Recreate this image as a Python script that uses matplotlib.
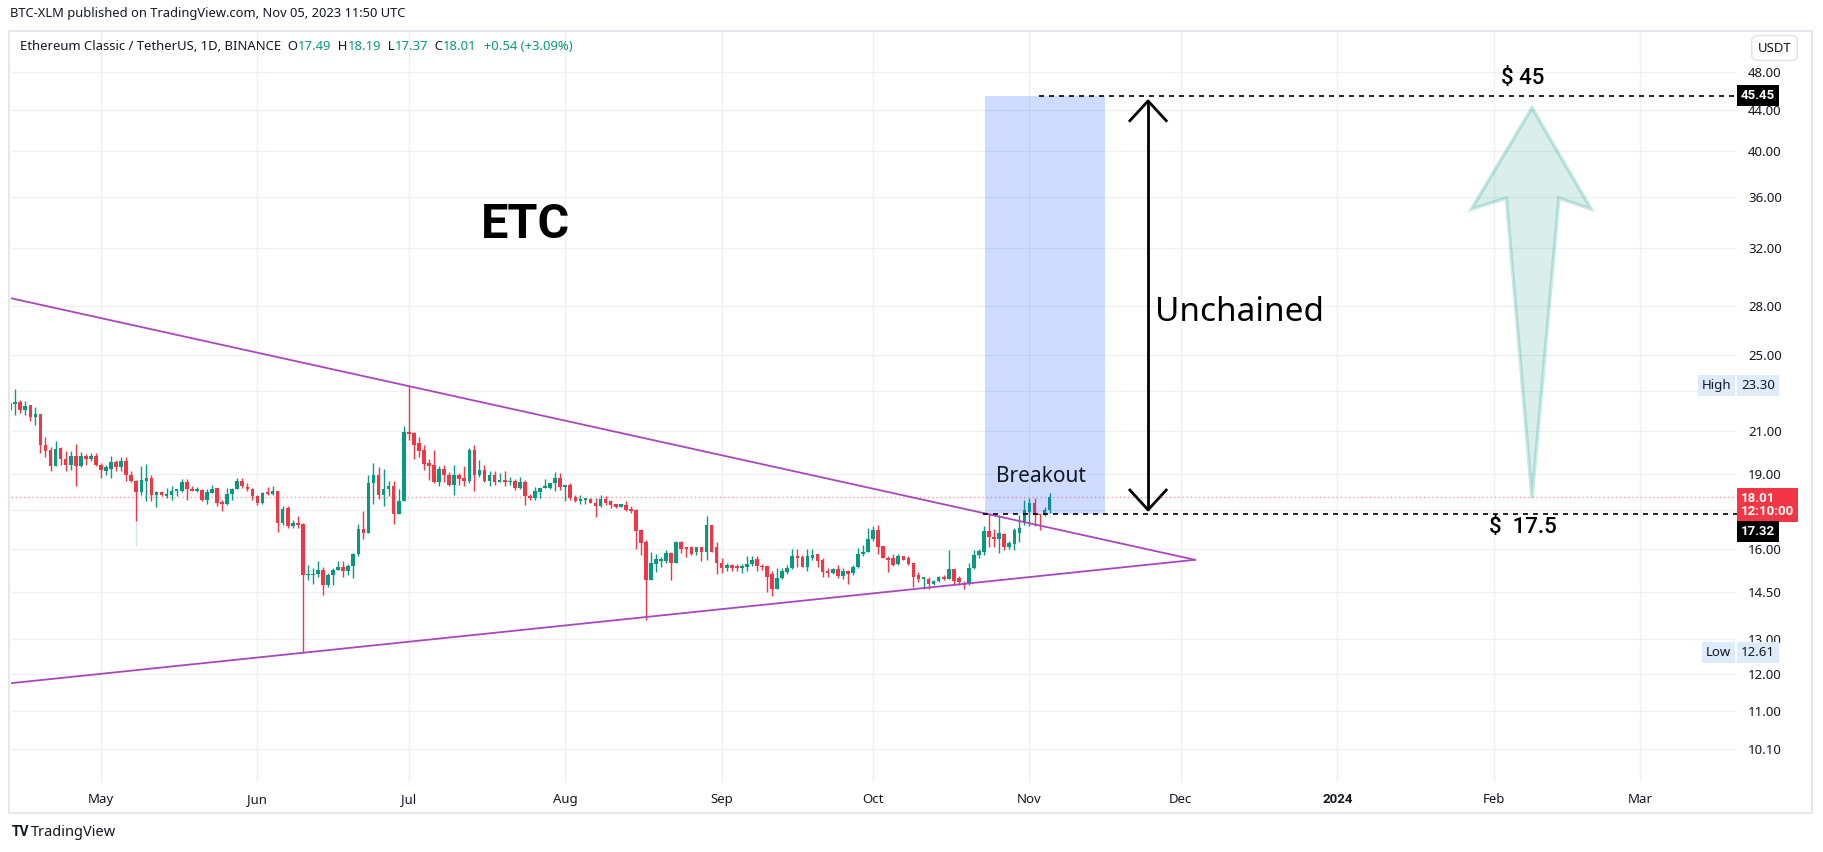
import numpy as np
import pandas as pd
import matplotlib
matplotlib.use("Agg")
import matplotlib.pyplot as plt
import matplotlib.dates as mdates
from matplotlib.patches import Polygon, Rectangle
from matplotlib.ticker import FixedLocator, FixedFormatter, NullLocator, NullFormatter

plt.rcParams['font.family'] = ['Noto Sans', 'DejaVu Sans']
BOLD_FONT = ['Roboto', 'DejaVu Sans']

# daily candles ETC/USDT, 2023-04-13 .. 2023-11-05
start_date = "2023-04-13"
opens = [
    22.02, 22.35, 22.45, 22.05, 22.3, 21.7, 21.85, 20.3, 20.1, 19.35, 20.2, 19.7, 19.4, 19.8, 19.35, 19.8, 19.7, 19.8,
    19.4, 19.15, 19.25, 19.55, 19.3, 19.6, 18.95, 18.7, 18.25, 18.7, 18.85, 18.1, 18.25, 18.08, 18.1, 18.28, 18.3, 18.65,
    18.38, 18.3, 18.32, 17.9, 18.2, 18.42, 17.8, 17.72, 18.15, 18.35, 18.72, 18.45, 18.35,
    18.07, 17.8, 18.22, 18.16, 18.3, 17.0, 17.57, 16.87, 16.98, 16.95, 15.05, 15.05, 15.1, 15.25, 14.72, 15.05, 15.24,
    15.35, 15.2, 15.38, 15.82, 16.75, 16.6, 18.6, 18.95, 18.1, 18.35, 18.5, 17.35, 17.85,
    20.95, 20.9, 20.4, 20.1, 19.5, 19.4, 18.68, 19.25, 18.97, 18.55, 18.95, 18.85, 18.72, 20.1, 18.95, 19.2, 18.72,
    18.98, 18.68, 18.75, 18.65, 18.72, 18.42, 18.68, 18.08, 18.0, 18.25, 18.4, 18.4, 18.6, 18.85,
    18.45, 18.52, 18.02, 17.88, 17.9, 17.93, 17.8, 17.65, 17.93, 17.85, 17.72, 17.6, 17.7, 17.52, 17.5, 16.72,
    16.25, 14.89, 15.45, 15.55, 15.55, 15.85, 15.5, 16.25, 16.05, 16.05, 15.88, 16.05, 15.88, 16.9, 16.05,
    15.5, 15.3, 15.42, 15.35, 15.32, 15.33, 15.45, 15.62, 15.38, 15.38, 15.1, 14.6, 14.95, 15.18, 15.3, 15.72,
    15.7, 15.35, 15.65, 15.8, 15.58, 15.2, 15.15, 15.27, 15.03, 15.22, 15.13, 15.35, 15.82, 15.87,
    16.35, 16.72, 16.1, 15.68, 15.65, 15.45, 15.75, 15.68, 15.48, 15.05, 14.92, 14.92, 14.75, 14.85, 15.0, 14.93,
    15.28, 14.95, 14.78, 14.75, 15.3, 15.78, 15.9, 16.67, 16.45, 16.35, 16.55, 16.05, 16.18, 16.6, 16.98,
    17.42, 17.8, 17.32, 17.28, 17.49,
]
highs = [
    22.45, 23.1, 22.55, 22.5, 22.3, 22.2, 21.85, 20.7, 20.25, 20.5, 20.25, 20.05, 20.05, 20.35, 20.0, 19.9, 19.95, 19.95,
    19.5, 19.4, 19.8, 19.65, 19.75, 19.75, 19.15, 18.75, 19.35, 19.45, 18.95, 18.3, 18.3, 18.4, 18.5, 18.35, 18.8, 18.8,
    18.5, 18.45, 18.35, 18.35, 18.55, 18.42, 17.9, 18.4, 18.4, 18.85, 18.85, 18.6, 18.4,
    18.12, 18.25, 18.45, 18.5, 18.3, 17.65, 17.65, 17.1, 17.25, 16.97, 15.42, 15.3, 15.55, 15.35, 15.15, 15.3, 15.55,
    15.55, 15.45, 15.85, 16.95, 17.45, 18.95, 19.5, 19.3, 19.25, 18.7, 18.7, 18.35, 21.25,
    23.30, 20.95, 20.7, 20.3, 19.7, 20.1, 19.35, 19.4, 19.1, 19.4, 19.05, 19.35, 20.2, 20.3, 19.65, 19.4,
    19.12, 19.12, 19.05, 19.12, 18.9, 18.8, 18.9, 18.75, 18.15, 18.45, 18.4, 18.8, 18.62, 19.1, 19.05,
    18.55, 18.6, 18.1, 18.1, 17.98, 18.0, 18.0, 18.1, 18.05, 17.9, 17.75, 17.72, 17.85, 17.65, 17.52, 16.75,
    16.33, 15.9, 15.8, 15.7, 15.96, 15.88, 16.3, 16.3, 16.05, 16.12, 16.08, 16.05, 17.25, 16.92, 16.25,
    15.65, 15.5, 15.45, 15.45, 15.45, 15.72, 15.72, 15.72, 15.45, 15.38, 15.2, 15.3, 15.3, 15.42, 16.0, 16.0,
    15.78, 16.0, 15.98, 15.82, 15.65, 15.32, 15.32, 15.4, 15.32, 15.25, 15.4, 16.03, 16.15, 16.8,
    16.85, 16.9, 16.1, 15.75, 15.8, 15.82, 15.75, 15.72, 15.5, 15.18, 15.0, 15.0, 14.89, 15.02, 15.06, 15.95,
    15.28, 15.02, 14.85, 15.48, 15.95, 15.98, 16.85, 17.35, 16.75, 17.3, 16.6, 16.28, 16.8, 17.3, 17.9,
    18.0, 18.0, 17.32, 17.62, 18.19,
]
lows = [
    22.0, 21.8, 21.9, 21.8, 21.5, 21.3, 19.95, 19.75, 19.15, 19.35, 19.4, 19.15, 19.2, 18.5, 19.3, 19.4, 19.6, 19.35,
    18.85, 18.95, 18.85, 19.15, 19.15, 18.7, 18.65, 17.05, 18.1, 17.85, 17.85, 17.6, 18.05, 18.0, 17.9, 18.05, 18.25, 17.9,
    18.28, 18.25, 17.85, 17.75, 18.2, 17.65, 17.45, 17.7, 17.9, 18.35, 18.4, 18.28, 17.9,
    17.7, 17.75, 18.1, 18.1, 16.62, 16.92, 16.77, 16.8, 16.77, 12.61, 14.89, 14.75, 15.0, 14.38, 14.65, 14.72, 15.24,
    15.0, 15.06, 14.95, 15.75, 16.35, 16.6, 17.75, 17.95, 17.65, 18.05, 16.93, 17.35, 17.85,
    20.55, 19.7, 19.75, 19.2, 18.75, 18.63, 18.5, 18.68, 18.5, 18.1, 18.55, 18.5, 18.6, 18.3, 18.9, 18.68,
    18.5, 18.55, 18.68, 18.5, 18.52, 18.32, 18.35, 17.7, 17.92, 17.9, 18.0, 18.4, 18.38, 18.3, 18.32,
    17.85, 17.92, 17.82, 17.75, 17.75, 17.78, 17.2, 17.6, 17.7, 17.58, 17.58, 17.6, 17.45, 17.38, 15.98, 15.78,
    13.57, 14.89, 15.18, 15.35, 15.48, 14.89, 15.5, 15.85, 15.7, 15.78, 15.78, 15.55, 15.6, 15.88, 15.1,
    15.12, 15.22, 15.22, 15.2, 15.15, 15.2, 15.38, 15.2, 15.25, 14.5, 14.35, 14.6, 14.92, 15.1, 15.28, 15.35,
    15.35, 15.2, 15.58, 15.35, 15.0, 15.0, 15.1, 14.95, 14.92, 14.75, 15.08, 15.3, 15.75, 15.87,
    16.3, 15.82, 15.68, 15.18, 15.38, 15.42, 15.58, 15.42, 14.65, 14.82, 14.6, 14.6, 14.72, 14.82, 14.89, 14.93,
    14.72, 14.72, 14.6, 14.72, 15.26, 15.65, 15.78, 16.05, 16.05, 15.85, 15.95, 16.0, 15.95, 16.25, 16.9,
    16.85, 16.85, 16.72, 17.26, 17.37,
]
closes = [
    22.38, 22.45, 22.05, 22.25, 21.7, 21.85, 20.3, 20.05, 19.35, 20.15, 19.7, 19.4, 19.8, 19.35, 19.8, 19.7, 19.8, 19.4,
    19.2, 19.3, 19.55, 19.3, 19.6, 18.95, 18.7, 18.25, 18.75, 18.85, 18.1, 18.25, 18.1, 18.12, 18.3, 18.32, 18.65, 18.35,
    18.3, 18.32, 17.9, 18.25, 18.38, 17.8, 17.75, 18.15, 18.35, 18.72, 18.5, 18.35, 18.07,
    17.8, 18.2, 18.16, 18.3, 17.0, 17.55, 16.87, 16.98, 16.92, 15.05, 15.1, 15.1, 15.25, 14.72, 15.05, 15.25, 15.35,
    15.2, 15.38, 15.82, 16.75, 16.6, 18.6, 18.95, 18.1, 18.35, 18.5, 17.35, 17.85, 20.95,
    20.85, 20.3, 20.05, 19.45, 19.35, 18.68, 19.25, 18.95, 18.55, 18.95, 18.8, 18.72, 20.1, 18.95, 19.2, 18.72,
    18.98, 18.68, 18.75, 18.65, 18.72, 18.42, 18.68, 18.05, 18.0, 18.3, 18.4, 18.5, 18.6, 18.85, 18.45,
    18.52, 18.0, 17.88, 17.92, 17.94, 17.78, 17.65, 17.93, 17.8, 17.7, 17.6, 17.72, 17.5, 17.45, 16.68, 16.22,
    14.89, 15.5, 15.62, 15.62, 15.85, 15.5, 16.25, 16.0, 16.0, 15.82, 16.05, 15.88, 16.9, 15.88, 15.5,
    15.3, 15.42, 15.3, 15.32, 15.35, 15.45, 15.6, 15.38, 15.33, 14.98, 14.6, 14.95, 15.2, 15.32, 15.75, 15.65,
    15.35, 15.72, 15.78, 15.55, 15.18, 15.15, 15.27, 15.03, 15.22, 15.1, 15.35, 15.82, 15.9, 16.38,
    16.72, 16.08, 15.68, 15.6, 15.42, 15.75, 15.6, 15.45, 14.98, 14.92, 14.95, 14.75, 14.85, 15.0, 14.93, 15.28,
    14.85, 14.82, 14.72, 15.3, 15.78, 15.92, 16.67, 16.45, 16.35, 16.6, 16.05, 16.2, 16.72, 16.78, 17.5,
    17.8, 17.3, 17.28, 17.49, 18.01,
]

# faint extra wick under the 2023-05-08 candle
ghost_wick_date = "2023-05-08"
ghost_wick_prices = [16.1, 17.05]

# price axis
price_ticks = [48, 44, 40, 36, 32, 28, 25, 23, 21, 19, 17.5, 16, 14.5, 13, 12, 11, 10.1]
price_tick_labels = ["48.00", "44.00", "40.00", "36.00", "32.00", "28.00", "25.00", "",
                     "21.00", "19.00", "", "16.00", "14.50", "13.00", "12.00", "11.00", "10.10"]
month_ticks = ["2023-05-01", "2023-06-01", "2023-07-01", "2023-08-01", "2023-09-01", "2023-10-01",
               "2023-11-01", "2023-12-01", "2024-01-01", "2024-02-01", "2024-03-01"]
month_labels = ["May", "Jun", "Jul", "Aug", "Sep", "Oct", "Nov", "Dec", "2024", "Feb", "Mar"]

# drawings
tri_start = "2023-04-13 04:00"
tri_apex = "2023-12-03 19:00"
tri_upper_start, tri_lower_start, tri_apex_price = 28.5, 11.74, 15.6
box_dates = ["2023-10-23 05:00", "2023-11-16 00:00"]
box_prices = [17.35, 45.45]
target_price, breakout_price, last_price = 45.45, 17.32, 18.01
target_line_start = "2023-11-02 22:00"
breakout_line_start = "2023-10-22 17:00"
arrow_date = "2023-11-24 12:00"
arrow_prices = [17.5, 44.9]
arrow_head_prices = [18.32, 42.9]
arrow_head_halfwidth = 3.6  # days
green_arrow_dates = ["2024-02-08 14:00", "2024-02-20 07:00", "2024-02-13 22:00", "2024-02-08 14:00",
                     "2024-02-03 12:00", "2024-01-27 14:00"]
green_arrow_prices = [44.2, 35.0, 35.9, 17.98, 35.9, 35.0]
x_range = ["2023-04-13 04:00", "2024-03-20 05:00"]
y_range = [9.35, 52.75]

UP = "#089981"
DOWN = "#f23645"
TXT = "#131722"
GRID = "#eef0f4"


def dnum(s):
    return mdates.date2num(pd.Timestamp(s))


fig = plt.figure(figsize=(18.24, 8.52), dpi=100)
ax = fig.add_axes([11 / 1824, 70 / 852, 1726 / 1824, 751 / 852])
ax.set_yscale("log")
ax.set_xlim(dnum(x_range[0]), dnum(x_range[1]))
ax.set_ylim(*y_range)
for s in ax.spines.values():
    s.set_visible(False)

# grid
for p in price_ticks:
    ax.axhline(p, color=GRID, lw=1, zorder=0)
for m in month_ticks:
    ax.axvline(dnum(m), color=GRID, lw=1, zorder=0)

# candles
dates = pd.date_range(start_date, periods=len(opens), freq="D")
x = mdates.date2num(dates)
o = np.array(opens)
h = np.array(highs)
l = np.array(lows)
c = np.array(closes)
col = np.where(c >= o, UP, DOWN)
lo = np.minimum(o, c)
hi = np.maximum(o, c)
hi = np.maximum(hi, lo * 1.004)
ax.vlines(x, l, h, colors=col, lw=1, zorder=2)
ax.bar(x, hi - lo, width=0.72, bottom=lo, color=col, lw=0, zorder=3)
ax.vlines(dnum(ghost_wick_date), *ghost_wick_prices, colors="#cfe9d9", lw=1, zorder=1)

# triangle
ax.plot([dnum(tri_start), dnum(tri_apex)], [tri_upper_start, tri_apex_price], color="#ab47bc", lw=1.3, zorder=4)
ax.plot([dnum(tri_start), dnum(tri_apex)], [tri_lower_start, tri_apex_price], color="#ab47bc", lw=1.3, zorder=4)

# last price dotted line
ax.axhline(last_price, color=DOWN, lw=1, ls=(0, (1, 2)), alpha=0.5, zorder=1)

# target box
bx0, bx1 = dnum(box_dates[0]), dnum(box_dates[1])
ax.add_patch(Rectangle((bx0, box_prices[0]), bx1 - bx0, box_prices[1] - box_prices[0],
                       fc="#2962ff", alpha=0.22, lw=0, zorder=5))

# dashed levels
xr = dnum(x_range[1])
ax.plot([dnum(target_line_start), xr], [target_price] * 2, color="black", lw=1.2, ls=(0, (3, 3)), zorder=6)
ax.plot([dnum(breakout_line_start), xr], [breakout_price] * 2, color="black", lw=1.2, ls=(0, (3, 3)), zorder=6)

# double arrow
ax_ = dnum(arrow_date)
ax.plot([ax_, ax_], arrow_prices, color="black", lw=2, zorder=6, solid_capstyle="butt")
for tip, base in zip(arrow_prices, arrow_head_prices):
    ax.plot([ax_ - arrow_head_halfwidth, ax_, ax_ + arrow_head_halfwidth], [base, tip, base],
            color="black", lw=2, zorder=6)

# big green arrow
ax.add_patch(Polygon(list(zip([dnum(d) for d in green_arrow_dates], green_arrow_prices)), closed=True,
                     fc=(0.03, 0.6, 0.5, 0.15), ec=(0.03, 0.6, 0.5, 0.22), lw=2.5, zorder=5))

# texts
ax.text(dnum("2023-07-24 05:00"), 33.7, "ETC", fontsize=35, fontweight="bold", family=BOLD_FONT,
        color="black", ha="center", va="center", zorder=7)
ax.text(dnum("2023-11-25 22:00"), 27.6, "Unchained", fontsize=24, color="black",
        ha="left", va="center", zorder=7)
ax.text(dnum("2023-11-03 07:00"), 18.88, "Breakout", fontsize=15, color=TXT,
        ha="center", va="center", zorder=7)
ax.text(dnum("2024-02-06 19:00"), 47.3, "$ 45", fontsize=16, color="black", family=BOLD_FONT,
        fontweight="medium", ha="center", va="center", zorder=7)
ax.text(dnum("2024-02-06 19:00"), 16.82, "$  17.5", fontsize=16, color="black", family=BOLD_FONT,
        fontweight="medium", ha="center", va="center", zorder=7)

# axes ticks
ax.xaxis.set_major_locator(FixedLocator([dnum(m) for m in month_ticks]))
ax.xaxis.set_major_formatter(FixedFormatter(month_labels))
ax.xaxis.set_minor_locator(NullLocator())
ax.yaxis.tick_right()
ax.yaxis.set_major_locator(FixedLocator(price_ticks))
ax.yaxis.set_major_formatter(FixedFormatter(price_tick_labels))
ax.yaxis.set_minor_locator(NullLocator())
ax.yaxis.set_minor_formatter(NullFormatter())
ax.tick_params(axis="x", length=0, pad=8, labelsize=9.5, labelcolor=TXT)
ax.tick_params(axis="y", length=0, pad=8, labelsize=9.5, labelcolor=TXT)
for t in ax.get_xticklabels():
    if t.get_text() == "2024":
        t.set_fontweight("bold")
        t.set_family(BOLD_FONT)

ytr = ax.get_yaxis_transform()


def tag(price, text, fc, tc, dy=0, bold=True, va="center"):
    ax.annotate(text, xy=(1, price), xycoords=ytr, xytext=(3, dy), textcoords="offset points",
                ha="left", va=va, fontsize=9.5, color=tc, fontweight="bold" if bold else "normal",
                family=BOLD_FONT if bold else None,
                linespacing=1.05, annotation_clip=False, zorder=10,
                bbox=dict(boxstyle="square,pad=0.3", fc=fc, ec="none"))


tag(target_price, "45.45", "black", "white")
tag(last_price, "18.01\n12:10:00", DOWN, "white", dy=4, va="top")
tag(breakout_price, "17.32", "black", "white", dy=-12)
tag(23.30, "23.30", "#deebfa", TXT, bold=False)
tag(12.61, "12.61", "#deebfa", TXT, bold=False)
for p, lab in [(23.30, "High"), (12.61, "Low")]:
    ax.annotate(lab, xy=(1, p), xycoords=ytr, xytext=(-4, 0), textcoords="offset points",
                ha="right", va="center", fontsize=9.5, color=TXT, annotation_clip=False, zorder=10,
                bbox=dict(boxstyle="square,pad=0.3", fc="#deebfa", ec="none"))

# header
fig.text(10 / 1824, 1 - 14 / 852, "BTC-XLM published on TradingView.com, Nov 05, 2023 11:50 UTC",
         fontsize=9.3, color=TXT, va="center", ha="left")
legend_parts = [("Ethereum Classic / TetherUS, 1D, BINANCE  O", TXT), ("17.49", UP), ("  H", TXT), ("18.19", UP),
                ("  L", TXT), ("17.37", UP), ("  C", TXT), ("18.01", UP), ("  +0.54 (+3.09%)", UP)]
prev = fig.text(20 / 1824, 1 - 47 / 852, legend_parts[0][0], fontsize=9.4, color=legend_parts[0][1],
                va="center", ha="left")
for s, cc in legend_parts[1:]:
    prev = ax.annotate(s, xy=(1, 0), xycoords=prev, fontsize=9.4, color=cc,
                       va="bottom", ha="left", annotation_clip=False)

fig.text(1774.5 / 1824, 1 - 48 / 852, "USDT", fontsize=9.5, color=TXT, ha="center", va="center",
         bbox=dict(boxstyle="round,pad=0.45,rounding_size=0.4", fc="white", ec="#e0e3eb"))

# frame
fig.add_artist(Rectangle((9 / 1824, 1 - 813 / 852), 1803 / 1824, 782 / 852, transform=fig.transFigure,
                         fill=False, ec="#e0e3eb", lw=1.2))

# footer logo
fig.text(12 / 1824, 1 - 832 / 852, "TV", fontsize=10, fontweight="bold", family=BOLD_FONT, color=TXT, va="center")
fig.text(31 / 1824, 1 - 832 / 852, "TradingView", fontsize=10.5, color=TXT, va="center")

fig.savefig("out.png", dpi=100)
